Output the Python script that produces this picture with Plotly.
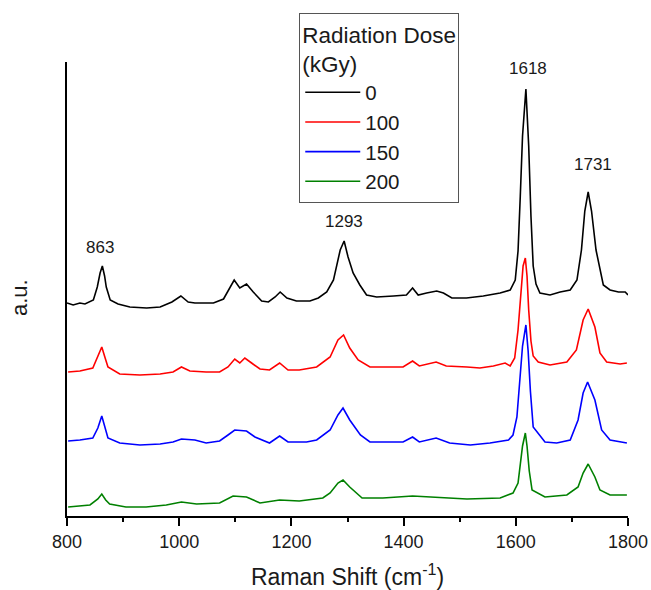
import plotly.graph_objects as go

# Raman shift (cm^-1) and intensity (a.u., stacked as displayed)
x_0 = [800, 811, 823, 832, 847, 854, 859, 863, 867, 870, 877, 891, 912, 942, 966, 987, 1003, 1016, 1028, 1043,
       1061, 1079, 1090, 1098, 1108, 1120, 1132, 1147, 1159, 1171, 1180, 1192, 1209, 1233, 1248, 1263, 1275, 1287,
       1294, 1301, 1310, 1322, 1334, 1352, 1382, 1405, 1416, 1426, 1441, 1459, 1471, 1486, 1512, 1542, 1572, 1590,
       1599, 1604, 1608, 1612, 1618, 1623, 1627, 1631, 1636, 1643, 1661, 1679, 1697, 1709, 1717, 1723, 1729, 1735,
       1743, 1750, 1756, 1768, 1783, 1795, 1800]
y_0 = [213, 211, 213, 212, 216, 229, 243, 250, 240, 229, 216, 212, 209, 208, 209, 214, 220, 214, 213, 213,
       213, 217, 228, 236, 228, 232, 224, 215, 214, 219, 224, 218, 215, 215, 218, 224, 236, 266,
       275, 259, 243, 231, 221, 219, 220, 221, 228, 221, 223, 225, 223, 218, 218, 220, 223, 226,
       236, 265, 320, 380, 427, 370, 300, 250, 232, 223, 221, 224, 226, 236, 266, 305, 324, 305,
       266, 245, 231, 226, 224, 224, 221]

x_100 = [802, 823, 846, 855, 862, 868, 873, 894, 930, 966, 989, 1004, 1019, 1048, 1072, 1087, 1099, 1108, 1117, 1129,
         1144, 1161, 1179, 1194, 1214, 1245, 1269, 1283, 1293, 1304, 1319, 1340, 1370, 1399, 1416, 1428, 1458, 1476,
         1513, 1536, 1560, 1581, 1590, 1598, 1604, 1609, 1613, 1617, 1620, 1623, 1627, 1631, 1640, 1661, 1691, 1708,
         1720, 1729, 1741, 1750, 1762, 1786, 1798]
y_100 = [144, 145, 148, 160, 169, 158, 149, 142, 141, 142, 144, 149, 145, 144, 144, 149, 157, 153, 158, 153,
         147, 146, 153, 146, 146, 149, 159, 176, 181, 168, 156, 149, 149, 149, 155, 150, 154, 150,
         149, 148, 150, 153, 150, 158, 186, 225, 250, 258, 240, 206, 175, 160, 154, 151, 154, 166,
         196, 207, 189, 163, 154, 152, 153]

x_150 = [802, 823, 846, 855, 862, 868, 873, 894, 930, 966, 989, 1004, 1028, 1048, 1072, 1087, 1099, 1120, 1135, 1161,
         1179, 1194, 1227, 1245, 1269, 1283, 1292, 1304, 1323, 1340, 1370, 1399, 1416, 1428, 1458, 1482, 1519, 1554,
         1587, 1595, 1602, 1607, 1612, 1618, 1622, 1626, 1631, 1652, 1673, 1697, 1711, 1720, 1728, 1741, 1753, 1768,
         1798]
y_150 = [75, 76, 78, 88, 100, 88, 78, 73, 71, 72, 74, 77, 76, 73, 75, 81, 86, 85, 79, 73,
         80, 74, 74, 76, 86, 101, 108, 96, 81, 74, 74, 74, 79, 74, 78, 73, 71, 73,
         76, 81, 99, 135, 170, 191, 165, 125, 89, 74, 73, 76, 96, 123, 134, 116, 86, 76,
         73]

x_200 = [802, 841, 855, 862, 869, 876, 905, 941, 977, 1004, 1031, 1072, 1096, 1120, 1144, 1179, 1214, 1256, 1269, 1283,
         1292, 1304, 1326, 1363, 1416, 1458, 1513, 1572, 1595, 1604, 1608, 1612, 1617, 1620, 1624, 1629, 1652, 1691,
         1711, 1720, 1729, 1741, 1750, 1768, 1798]
y_200 = [9, 11, 17, 22, 16, 12, 9, 9, 11, 14, 12, 13, 20, 19, 13, 16, 15, 18, 23, 33,
         36, 29, 18, 18, 20, 19, 17, 18, 23, 33, 50, 70, 83, 70, 45, 26, 19, 21,
         29, 43, 52, 39, 26, 21, 21]

doses = ["0", "100", "150", "200"]
colors = ["#000000", "#ff0000", "#0000ff", "#008000"]

peak_x = [858, 1294, 1621, 1738]
peak_y = [269, 295, 448, 352]
peak_labels = ["863", "1293", "1618", "1731"]

fig = go.Figure()
for xs, ys, name, c in zip([x_0, x_100, x_150, x_200], [y_0, y_100, y_150, y_200], doses, colors):
    fig.add_trace(go.Scatter(x=xs, y=ys, mode="lines", name=name,
                             line=dict(color=c, width=1.6)))

for px, py, t in zip(peak_x, peak_y, peak_labels):
    fig.add_annotation(x=px, y=py, text=t, showarrow=False,
                       font=dict(size=17, color="#1a1a1a"), xanchor="center", yanchor="middle")

fig.add_annotation(xref="paper", yref="paper", x=0, y=0.48, xshift=-48, text="a.u.",
                   xanchor="center", yanchor="middle",
                   textangle=-90, showarrow=False, font=dict(size=22, color="#1a1a1a"))

fig.update_layout(
    width=651, height=590,
    margin=dict(l=67, r=23, t=62, b=74, autoexpand=False),
    paper_bgcolor="white", plot_bgcolor="white",
    font=dict(family="Arial, Liberation Sans, sans-serif", color="#1a1a1a"),
    showlegend=True,
    legend=dict(
        x=0.414, y=1.108, xanchor="left", yanchor="top",
        title=dict(text="Radiation Dose<br>(kGy)", font=dict(size=22.5), side="top"),
        font=dict(size=20.5),
        bordercolor="#555555", borderwidth=1, bgcolor="white",
        itemwidth=55, tracegroupgap=0,
    ),
    xaxis=dict(
        range=[800, 1800], tick0=800, dtick=200,
        ticks="outside", ticklen=8, tickwidth=1.5, tickcolor="black",
        showline=True, linecolor="black", linewidth=1.8,
        showgrid=False, zeroline=False,
        tickfont=dict(size=18),
        minor=dict(dtick=100, ticks="outside", ticklen=4, tickwidth=1.5, tickcolor="black", showgrid=False),
        title=dict(text="Raman Shift (cm<sup>-1</sup>)", font=dict(size=23), standoff=18),
    ),
    yaxis=dict(
        range=[0, 454], showticklabels=False, ticks="",
        showline=True, linecolor="black", linewidth=1.8,
        showgrid=False, zeroline=False,
    ),
)

fig.write_html("out.html")
